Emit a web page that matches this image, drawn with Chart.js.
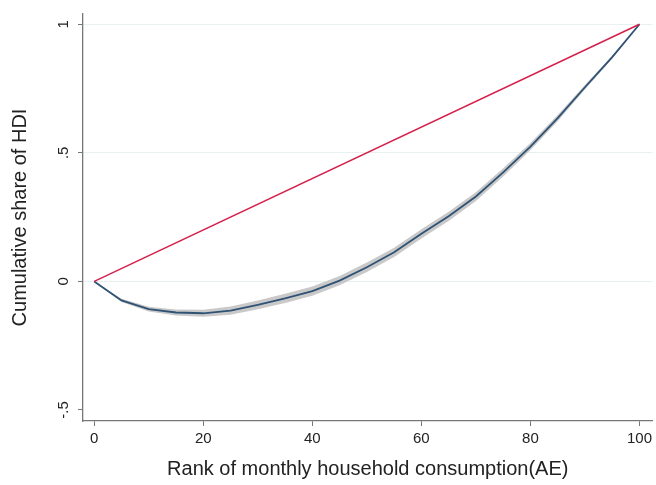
<!DOCTYPE html>
<html>
<head>
<meta charset="utf-8">
<script src="https://cdn.jsdelivr.net/npm/chart.js@4/dist/chart.umd.min.js"></script>
<style>
body{margin:0;background:#fff;}
canvas{display:block;}
</style>
</head>
<body>
<canvas id="lorenzChart" width="656" height="485"></canvas>
<script>
// rank points (percent of households)
const rank=[0,5,10,15,20,25,30,35,40,45,50,55,60,65,70,75,80,85,90,95,100];
// cumulative share of HDI and its confidence band
const shareHDI=[0,-0.074,-0.108,-0.121,-0.124,-0.114,-0.091,-0.066,-0.038,0.003,0.055,0.113,0.185,0.253,0.330,0.424,0.524,0.635,0.755,0.872,1];
const shareUpper=[0,-0.068,-0.099,-0.109,-0.110,-0.098,-0.074,-0.048,-0.020,0.021,0.073,0.131,0.203,0.271,0.347,0.440,0.538,0.647,0.764,0.878,1];
const shareLower=[0,-0.080,-0.117,-0.133,-0.138,-0.130,-0.108,-0.084,-0.056,-0.015,0.037,0.095,0.167,0.235,0.313,0.408,0.510,0.623,0.746,0.866,1];
// line of equality
const equalX=[0,100];
const equalY=[0,1];
// ticks
const xTicks=[0,20,40,60,80,100];
const yTicks=[-0.5,0,0.5,1];
const yTickLabels=["-.5","0",".5","1"];

const axisColor="#777777";
const gridColor="#e8f0f1";
const fontFamily="'Liberation Sans', Arial, sans-serif";

function pts(xs,ys){return xs.map((x,i)=>({x:x,y:ys[i]}));}

new Chart(document.getElementById("lorenzChart"),{
type:"line",
data:{
datasets:[
{data:pts(equalX,equalY),borderColor:"#d5204b",borderWidth:1.5,pointRadius:0,fill:false,order:0},
{data:pts(rank,shareHDI),borderColor:"#2f5275",borderWidth:1.8,pointRadius:0,tension:0,fill:false,order:1},
{data:pts(rank,shareUpper),borderWidth:0,borderColor:"rgba(0,0,0,0)",pointRadius:0,tension:0,fill:"+1",backgroundColor:"#c9c9c9",order:3},
{data:pts(rank,shareLower),borderWidth:0,borderColor:"rgba(0,0,0,0)",pointRadius:0,tension:0,fill:false,order:2}
]
},
options:{
responsive:false,
animation:false,
layout:{padding:{left:0,right:1,top:13,bottom:0}},
plugins:{legend:{display:false},tooltip:{enabled:false}},
scales:{
x:{
type:"linear",min:-2.06,max:102.4,
afterBuildTicks:s=>{s.ticks=xTicks.map(v=>({value:v}));},
afterFit:s=>{s.height=64;},
border:{color:axisColor,width:1.3},
grid:{display:true,drawOnChartArea:false,tickColor:axisColor,tickLength:5},
ticks:{color:"#222",font:{family:fontFamily,size:15},padding:4,maxRotation:0},
title:{display:true,text:"Rank of monthly household consumption(AE)",color:"#222",font:{family:fontFamily,size:20},padding:{top:0,bottom:4}}
},
y:{
type:"linear",min:-0.543,max:1.04,
afterBuildTicks:s=>{s.ticks=yTicks.map(v=>({value:v}));},
afterFit:s=>{s.width=83;},
border:{color:axisColor,width:1.3},
grid:{color:c=>c.tick&&c.tick.value===-0.5?"rgba(0,0,0,0)":gridColor,tickColor:axisColor,tickLength:5,lineWidth:1},
ticks:{color:"#222",font:{family:fontFamily,size:15},padding:5,minRotation:90,maxRotation:90,crossAlign:"center",
callback:v=>{const i=yTicks.indexOf(v);return i>=0?yTickLabels[i]:"";}},
title:{display:true,text:"Cumulative share of HDI",color:"#222",font:{family:fontFamily,size:20},padding:{top:8,bottom:0}}
}
}
}
});
</script>
</body>
</html>
